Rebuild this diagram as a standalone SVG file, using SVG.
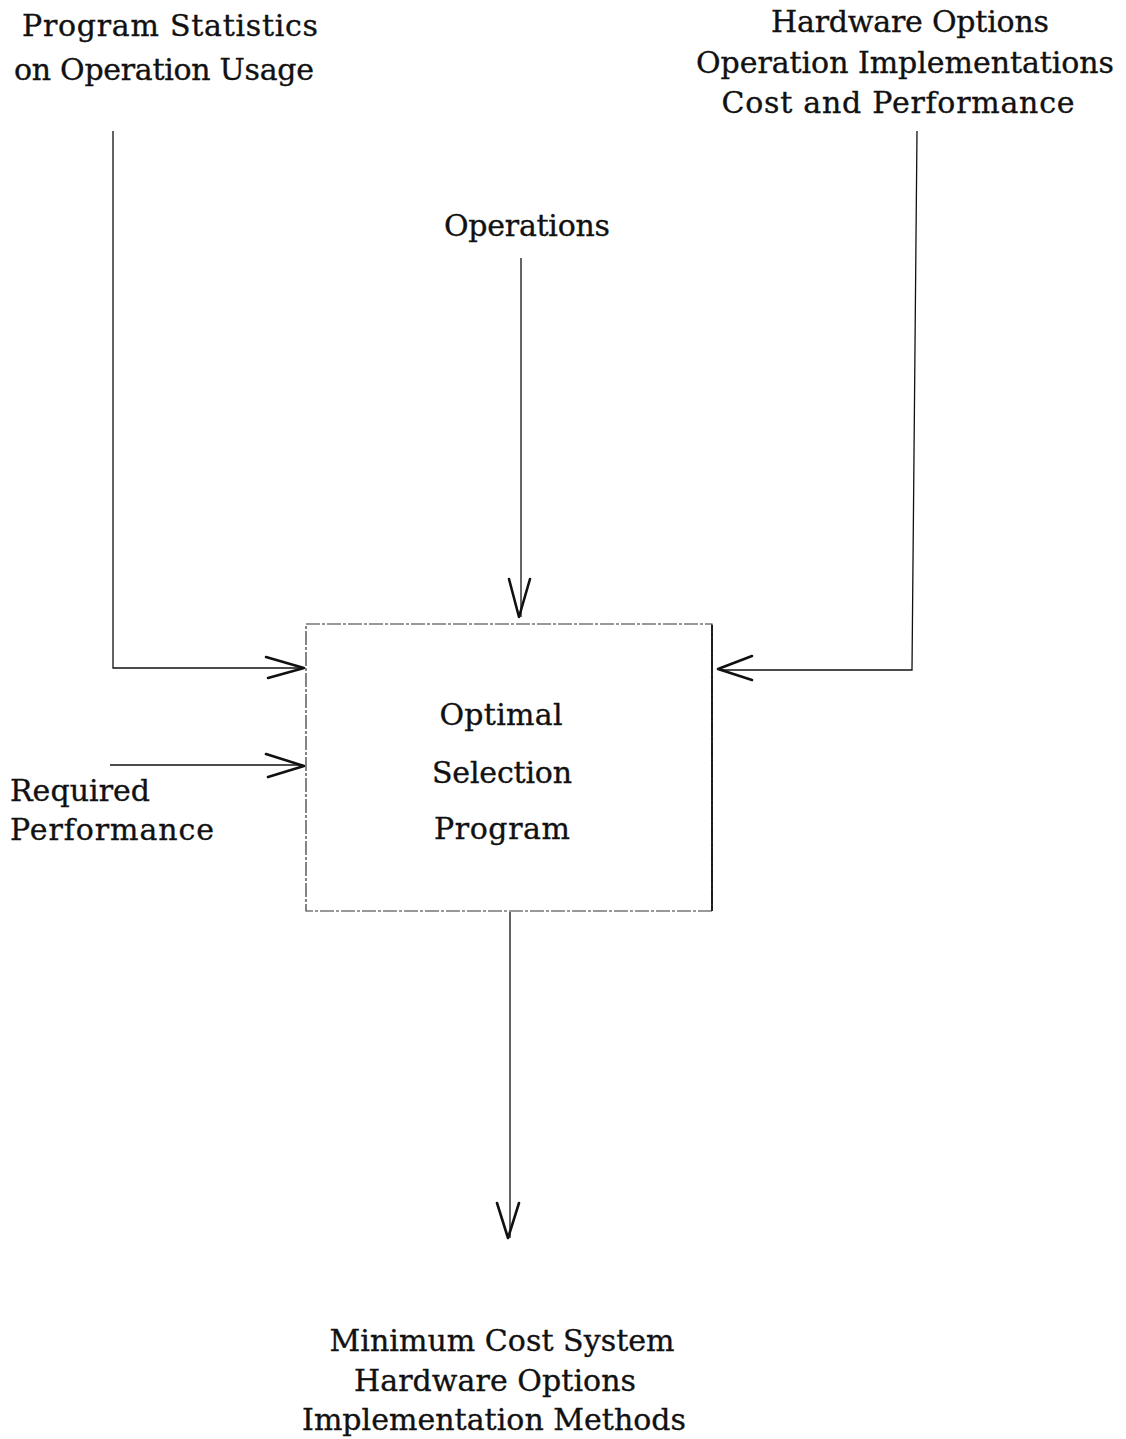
<svg xmlns="http://www.w3.org/2000/svg" width="1126" height="1439" viewBox="0 0 1126 1439">
<style>
text{font-family:"DejaVu Serif","Liberation Serif",serif;font-size:30px;fill:#111;stroke:#111;stroke-width:0.35}
.c{text-anchor:middle}
.ln{fill:none;stroke:#111;stroke-width:1.3}
.ah{fill:none;stroke:#111;stroke-width:2.6;stroke-linecap:round;stroke-linejoin:round}
.box{fill:none;stroke:#333;stroke-width:1.2;stroke-dasharray:14 2 3 2}
.boxr{fill:none;stroke:#111;stroke-width:1.8}
</style>
<rect width="1126" height="1439" fill="#fff"/>
<g id="connectors">
<path class="ln" d="M113,131 V668 H303"/>
<path class="ah" d="M266,657 L304,668 L268,678"/>
<path class="ln" d="M521,258 V617"/>
<path class="ah" d="M509,579 L519,617 L530,579"/>
<path class="ln" d="M917,131 L912,670 H720"/>
<path class="ah" d="M752,656 L718,669 L752,680"/>
<path class="ln" d="M110,765 H303"/>
<path class="ah" d="M266,754 L304,766 L268,777"/>
<path class="ln" d="M510,912 V1238"/>
<path class="ah" d="M497,1203 L508,1238 L519,1203"/>
</g>
<g id="input-stats">
<text class="c" x="170" y="36" textLength="296" lengthAdjust="spacing">Program Statistics</text>
<text class="c" x="164" y="80" textLength="300" lengthAdjust="spacing">on Operation Usage</text>
</g>
<g id="input-hardware">
<text class="c" x="910" y="32" textLength="278" lengthAdjust="spacing">Hardware Options</text>
<text class="c" x="905" y="73" textLength="418" lengthAdjust="spacing">Operation Implementations</text>
<text class="c" x="898" y="113" textLength="353" lengthAdjust="spacing">Cost and Performance</text>
</g>
<g id="input-operations">
<text class="c" x="527" y="236" textLength="166" lengthAdjust="spacing">Operations</text>
</g>
<g id="input-required">
<text x="10" y="801" textLength="140" lengthAdjust="spacing">Required</text>
<text x="10" y="840" textLength="204" lengthAdjust="spacing">Performance</text>
</g>
<g id="optimal-selection">
<rect class="box" x="306" y="624" width="406" height="287"/>
<path class="boxr" d="M712,625 V911"/>
<text class="c" x="501" y="725" textLength="123" lengthAdjust="spacing">Optimal</text>
<text class="c" x="502" y="783" textLength="140" lengthAdjust="spacing">Selection</text>
<text class="c" x="502" y="839" textLength="136" lengthAdjust="spacing">Program</text>
</g>
<g id="output">
<text class="c" x="502" y="1351" textLength="345" lengthAdjust="spacing">Minimum Cost System</text>
<text class="c" x="495" y="1391" textLength="282" lengthAdjust="spacing">Hardware Options</text>
<text class="c" x="494" y="1430" textLength="384" lengthAdjust="spacing">Implementation Methods</text>
</g>
</svg>
